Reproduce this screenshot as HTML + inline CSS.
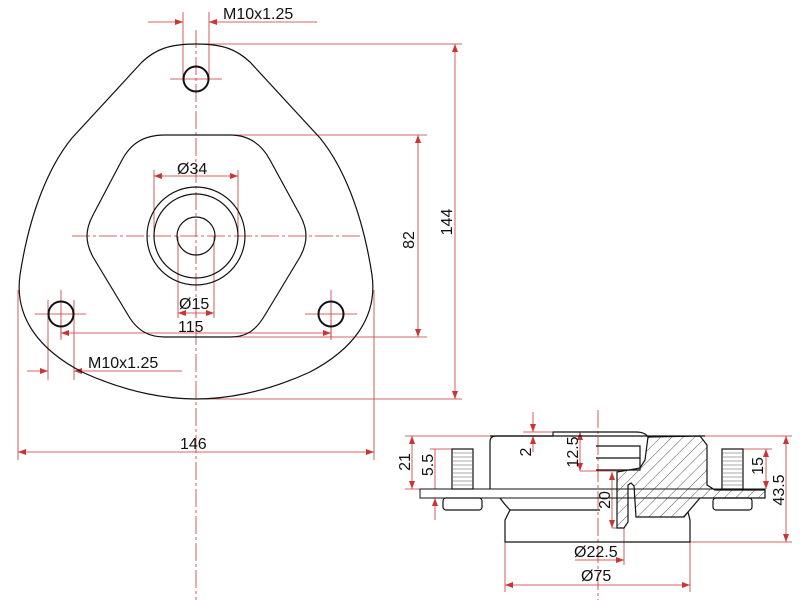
<!DOCTYPE html>
<html><head><style>html,body{margin:0;padding:0;background:#fff}svg{display:block}text{font-family:"Liberation Sans",sans-serif;font-size:16px;fill:#111}</style></head>
<body>
<svg width="800" height="600" viewBox="0 0 800 600" xmlns="http://www.w3.org/2000/svg">
<defs>
<marker id="a" markerWidth="8" markerHeight="6" refX="8" refY="3" orient="auto-start-reverse" markerUnits="userSpaceOnUse"><path d="M0,0 L8,3 L0,6 Z" fill="#c33"/></marker>
<pattern id="h" width="8" height="8" patternUnits="userSpaceOnUse" patternTransform="rotate(45)"><line x1="0" y1="0" x2="0" y2="8" stroke="#333" stroke-width="0.8"/></pattern>
</defs>
<g stroke="#c33" stroke-width="0.8" fill="none">
<line x1="196" y1="30" x2="196" y2="600" stroke-dasharray="18,3,3,3"/>
<line x1="72" y1="236" x2="362" y2="236" stroke-dasharray="18,3,3,3"/>
<line x1="170" y1="79" x2="222" y2="79"/><line x1="35" y1="314" x2="86" y2="314"/><line x1="61" y1="290" x2="61" y2="338"/>
<line x1="305" y1="314" x2="357" y2="314"/><line x1="331" y1="290" x2="331" y2="338"/>
<line x1="200" y1="44" x2="462" y2="44"/><line x1="200" y1="399" x2="462" y2="399"/>
<line x1="455" y1="44" x2="455" y2="399" marker-start="url(#a)" marker-end="url(#a)"/>
<line x1="230" y1="135" x2="427" y2="135"/><line x1="230" y1="337" x2="427" y2="337"/>
<line x1="418" y1="135" x2="418" y2="337" marker-start="url(#a)" marker-end="url(#a)"/>
<line x1="18" y1="290" x2="18" y2="460"/><line x1="374" y1="290" x2="374" y2="460"/>
<line x1="18" y1="452" x2="374" y2="452" marker-start="url(#a)" marker-end="url(#a)"/>
<line x1="61" y1="320" x2="61" y2="340"/><line x1="331" y1="320" x2="331" y2="340"/>
<line x1="61" y1="333" x2="331" y2="333" marker-start="url(#a)" marker-end="url(#a)"/>
<line x1="154" y1="170" x2="154" y2="236"/><line x1="238" y1="170" x2="238" y2="236"/>
<line x1="154" y1="176" x2="238" y2="176" marker-start="url(#a)" marker-end="url(#a)"/>
<line x1="178" y1="236" x2="178" y2="318"/><line x1="214" y1="236" x2="214" y2="318"/>
<line x1="178" y1="313" x2="214" y2="313" marker-start="url(#a)" marker-end="url(#a)"/>
<line x1="183" y1="12" x2="183" y2="80"/><line x1="209" y1="12" x2="209" y2="80"/>
<line x1="148" y1="22" x2="183" y2="22" marker-end="url(#a)"/><line x1="317" y1="22" x2="209" y2="22" marker-end="url(#a)"/>
<line x1="48" y1="300" x2="48" y2="380"/><line x1="74" y1="300" x2="74" y2="380"/>
<line x1="27" y1="371" x2="48" y2="371" marker-end="url(#a)"/><line x1="182" y1="371" x2="74" y2="371" marker-end="url(#a)"/>
<line x1="598" y1="410" x2="598" y2="600" stroke-dasharray="18,3,3,3"/>
<line x1="405" y1="436" x2="490" y2="436"/><line x1="405" y1="489" x2="450" y2="489"/>
<line x1="412" y1="436" x2="412" y2="489" marker-start="url(#a)" marker-end="url(#a)"/>
<line x1="430" y1="449" x2="452" y2="449"/>
<line x1="435" y1="449" x2="435" y2="489"/><line x1="435" y1="520" x2="435" y2="498" marker-end="url(#a)"/>
<line x1="523" y1="432" x2="552" y2="432"/>
<line x1="533" y1="412" x2="533" y2="432" marker-end="url(#a)"/><line x1="533" y1="452" x2="533" y2="436" marker-end="url(#a)"/>
<line x1="580" y1="471" x2="620" y2="471"/>
<line x1="580" y1="432" x2="580" y2="471" marker-start="url(#a)" marker-end="url(#a)"/>
<line x1="612" y1="528" x2="617" y2="528"/>
<line x1="612" y1="472" x2="612" y2="528" marker-start="url(#a)" marker-end="url(#a)"/>
<line x1="743" y1="449" x2="772" y2="449"/>
<line x1="766" y1="449" x2="766" y2="489" marker-start="url(#a)" marker-end="url(#a)"/>
<line x1="705" y1="436" x2="792" y2="436"/><line x1="690" y1="542" x2="792" y2="542"/>
<line x1="786" y1="436" x2="786" y2="542" marker-start="url(#a)" marker-end="url(#a)"/>
<line x1="624" y1="528" x2="624" y2="565"/>
<line x1="575" y1="560" x2="624" y2="560" marker-end="url(#a)"/>
<line x1="505" y1="542" x2="505" y2="592"/><line x1="690" y1="542" x2="690" y2="592"/>
<line x1="505" y1="585" x2="690" y2="585" marker-start="url(#a)" marker-end="url(#a)"/>
</g>
<g stroke="#111" stroke-width="1.2" fill="none">
<path d="M196,44 C168,44 155,50 142,62 L72,138 C50,165 30,210 20,275 C14,318 40,350 82,372 C130,394 170,399 196,399 C222,399 262,394 310,372 C352,350 378,318 372,275 C362,210 342,165 320,138 L250,62 C237,50 224,44 196,44Z"/>
<path d="M165,135 L230,135 C250,135 262,145 270,160 L300,215 C308,230 308,242 300,257 L265,315 C255,332 245,337 230,337 L165,337 C150,337 138,332 128,315 L93,257 C85,242 85,230 93,215 L122,160 C130,145 142,135 165,135Z"/>
<circle cx="196" cy="236" r="49"/><circle cx="196" cy="236" r="42"/><circle cx="196" cy="236" r="19"/>
<circle cx="196" cy="79" r="12.5" stroke-width="2"/><circle cx="61" cy="314" r="12.5" stroke-width="2"/><circle cx="331" cy="314" r="12.5" stroke-width="2"/>
<path d="M420,489 L765,489 L765,498 L420,498 Z" stroke-width="1"/>
<path d="M490,489 L490,442 Q490,436 496,436 L553,436 L553,432 L636,432 Q645,432 648,437"/>
<path d="M490,436 L705,436"/>
<path d="M500,498 Q505,505 510,510 L505,520 L505,542 L690,542 L690,520 L688,512"/>
<path d="M510,510 L600,510"/>
<path d="M596,446 L640,446 L640,470 L596,470"/><path d="M596,458 L640,458"/>
<rect x="452" y="449" width="21" height="40"/><rect x="722" y="449" width="21" height="40"/>
<rect x="443" y="498" width="39" height="12" rx="3"/><rect x="713" y="498" width="39" height="12" rx="3"/>
<path d="M648,437 L700,436 L707,445 L707,485 L715,490 L765,490 L765,498 L700,498 L688,512 L684,517 L636,517 L634,486 L631,483 L628,485 L628,522 L624,528 L617,528 L617,472 L640,468 L645,460 Z" fill="url(#h)"/>
</g>
<g stroke="#555" stroke-width="0.5">
<path d="M453,453h19M453,457h19M453,461h19M453,465h19M453,469h19M453,473h19M453,477h19M453,481h19M453,485h19M723,453h19M723,457h19M723,461h19M723,465h19M723,469h19M723,473h19M723,477h19M723,481h19M723,485h19"/>
</g>
<text x="223" y="19">M10x1.25</text>
<text x="88" y="368">M10x1.25</text>
<text x="177" y="174">Ø34</text>
<text x="179" y="309">Ø15</text>
<text x="178" y="332">115</text>
<text x="180" y="449">146</text>
<text transform="translate(414,240) rotate(-90)" text-anchor="middle">82</text>
<text transform="translate(452,222) rotate(-90)" text-anchor="middle">144</text>
<text transform="translate(410,462) rotate(-90)" text-anchor="middle">21</text>
<text transform="translate(433,465) rotate(-90)" text-anchor="middle">5.5</text>
<text transform="translate(531,452) rotate(-90)" text-anchor="middle">2</text>
<text transform="translate(578,452) rotate(-90)" text-anchor="middle">12.5</text>
<text transform="translate(610,500) rotate(-90)" text-anchor="middle">20</text>
<text transform="translate(763,466) rotate(-90)" text-anchor="middle">15</text>
<text transform="translate(784,490) rotate(-90)" text-anchor="middle">43.5</text>
<text x="574" y="557">Ø22.5</text>
<text x="581" y="581">Ø75</text>
</svg>
</body></html>
